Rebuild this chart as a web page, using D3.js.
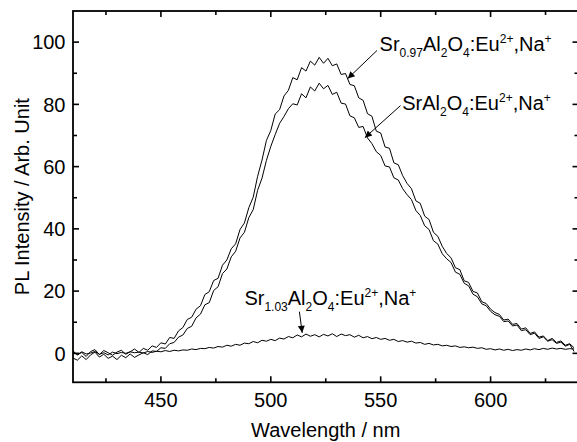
<!DOCTYPE html>
<html>
<head>
<meta charset="utf-8">
<script src="https://cdn.jsdelivr.net/npm/d3@7"></script>
<style>
  html, body { margin: 0; padding: 0; background: #fff; }
  svg { display: block; font-family: "Liberation Sans", Arial, sans-serif; }
  .tick-label { font-size: 20px; fill: #000; }
  .axis-title { font-size: 20px; fill: #000; }
  .note { font-size: 20px; fill: #000; }
</style>
</head>
<body>
<svg id="chart" width="577" height="442"></svg>
<script>
// ── Data ──────────────────────────────────────────────────────────────────────
// sampling grid, nm
const wavelengths = d3.range(410, 640, 2);

// Sr0.97Al2O4:Eu2+,Na+
const srPoor = [
  0.8, -0.5, 0.3, -1.0, 0.6, 1.2, -0.4, 0.9, 0.2, -0.6,
  0.4, 1.0, -0.3, 0.5, 1.4, 0.3, 1.6, 1.0, 2.4, 1.9,
  3.4, 3.0, 5.1, 4.8, 7.2, 8.3, 10.9, 11.6, 14.2, 15.3,
  18.9, 19.8, 23.4, 24.1, 28.3, 30.0, 33.6, 35.2, 39.8, 41.9,
  46.8, 50.2, 56.9, 62.1, 68.4, 71.6, 76.9, 78.3, 82.7, 84.5,
  88.6, 87.9, 91.8, 90.7, 93.9, 92.6, 95.1, 93.2, 94.8, 92.4,
  93.0, 89.6, 89.9, 86.4, 86.0, 82.1, 81.3, 77.0, 76.2, 71.4,
  70.8, 66.3, 65.9, 61.2, 60.6, 57.1, 54.6, 52.9, 49.0, 48.2,
  44.1, 43.0, 38.9, 37.6, 34.4, 32.1, 30.7, 27.5, 26.9, 23.3,
  22.8, 19.9, 19.4, 16.6, 16.0, 14.2, 13.1, 12.5, 10.7, 11.0,
  9.3, 9.6, 7.8, 8.2, 6.4, 6.9, 5.2, 5.6, 4.1, 4.8,
  3.5, 4.0, 2.6, 3.1, 1.8
];

// SrAl2O4:Eu2+,Na+
const srStoich = [
  -1.5, -2.2, -0.8, -2.0, -0.5, 0.4, -1.2, -0.3, -1.6, -0.9,
  -2.0, -0.6, -1.4, -0.2, -1.3, -0.5, 0.2, -0.4, 0.8, 0.6,
  1.8, 1.6, 3.1, 3.5, 5.2, 5.9, 8.0, 8.7, 11.4, 12.6,
  15.6, 16.3, 20.2, 21.4, 25.6, 27.1, 31.0, 32.8, 37.1, 38.9,
  43.6, 46.2, 52.4, 56.3, 62.0, 66.5, 70.3, 73.9, 76.1, 78.6,
  80.2, 79.8, 83.4, 82.1, 85.6, 84.3, 86.8, 85.0, 86.1, 83.2,
  83.9, 80.4, 80.1, 76.3, 75.7, 72.6, 72.9, 69.2, 67.4, 64.8,
  63.6, 60.2, 59.9, 56.4, 55.7, 52.9, 51.0, 49.4, 45.9, 44.3,
  41.0, 39.8, 36.2, 35.1, 32.0, 30.4, 29.2, 26.1, 25.4, 22.5,
  21.7, 19.0, 18.2, 15.9, 15.3, 13.5, 12.4, 11.9, 10.2, 10.4,
  8.8, 9.1, 7.3, 7.6, 6.0, 6.5, 4.8, 5.3, 3.9, 4.4,
  3.2, 3.6, 2.3, 2.9, 0.6
];

// Sr1.03Al2O4:Eu2+,Na+
const srRich = [
  0.3, -0.4, 0.5, -0.2, 0.1, 0.6, -0.3, 0.2, -0.5, 0.4,
  -0.1, 0.3, 0.0, 0.5, 0.2, 0.4, 0.1, 0.6, 0.3, 0.7,
  0.5, 0.9, 0.6, 1.0, 0.8, 1.1, 1.0, 1.4, 1.2, 1.6,
  1.5, 1.9, 1.7, 2.2, 2.0, 2.6, 2.3, 2.9, 2.6, 3.3,
  3.1, 3.8, 3.4, 4.2, 3.9, 4.5, 4.1, 4.9, 4.6, 5.4,
  5.0, 5.9, 5.3, 6.2, 5.5, 6.0, 5.3, 6.1, 5.6, 6.3,
  5.4, 6.2, 5.7, 6.0, 5.2, 5.8, 5.0, 5.4, 4.7, 5.1,
  4.5, 4.8, 4.2, 4.5, 3.8, 4.1, 3.6, 3.9, 3.3, 3.5,
  2.9, 3.2, 2.7, 2.9, 2.4, 2.6, 2.2, 2.4, 1.9, 2.1,
  1.8, 2.0, 1.6, 1.8, 1.3, 1.5, 1.1, 1.4, 1.0, 1.3,
  0.9, 1.2, 1.0, 1.4, 1.1, 1.5, 1.2, 1.6, 1.3, 1.7,
  1.4, 1.6, 1.3, 1.5, 1.4
];

const xMajor = [450, 500, 550, 600];
const xMinor = [425, 475, 525, 575, 625];
const yMajor = [0, 20, 40, 60, 80, 100];
const yMinor = [10, 30, 50, 70, 90];

// label parts: [text, "n" normal | "sub" | "sup"]
const labelPoor   = [["Sr","n"],["0.97","sub"],["Al","n"],["2","sub"],["O","n"],["4","sub"],[":Eu","n"],["2+","sup"],[",Na","n"],["+","sup"]];
const labelStoich = [["SrAl","n"],["2","sub"],["O","n"],["4","sub"],[":Eu","n"],["2+","sup"],[",Na","n"],["+","sup"]];
const labelRich   = [["Sr","n"],["1.03","sub"],["Al","n"],["2","sub"],["O","n"],["4","sub"],[":Eu","n"],["2+","sup"],[",Na","n"],["+","sup"]];

// annotations in data units: text anchor, arrow tail, arrow tip
const notes = [
  { parts: labelPoor,   at: [549.5, 97.3], from: [548.3, 97.3], to: [535.0, 88.3] },
  { parts: labelStoich, at: [559.8, 78.2], from: [559.0, 79.6], to: [542.8, 69.3] },
  { parts: labelRich,   at: [488.0, 15.5], from: [513.0, 13.4], to: [514.3, 6.6] }
];

// ── Chart ─────────────────────────────────────────────────────────────────────
const svg = d3.select("#chart");
const x = d3.scaleLinear().domain([410, 640]).range([73, 578.5]);
const y = d3.scaleLinear().domain([-9.3, 110]).range([382.3, 11]);
const [x0, x1] = x.range(), [y0, y1] = y.range();

const defs = svg.append("defs");
const clip = defs.append("clipPath").attr("id", "plot-clip");
clip.append("rect").attr("x", x0).attr("y", y1).attr("width", x1 - x0).attr("height", y0 - y1);

defs.append("marker")
  .attr("id", "arrow").attr("viewBox", "0 0 10 10")
  .attr("refX", 10).attr("refY", 5)
  .attr("markerUnits", "userSpaceOnUse")
  .attr("markerWidth", 9).attr("markerHeight", 7)
  .attr("orient", "auto")
  .append("path").attr("d", "M0,0L10,5L0,10z").attr("fill", "#000");

const line = d3.line()
  .x((d, i) => x(wavelengths[i]))
  .y(d => y(d));

const plot = svg.append("g").attr("clip-path", "url(#plot-clip)");
[srPoor, srStoich, srRich].forEach(values => {
  plot.append("path").datum(values)
    .attr("fill", "none")
    .attr("stroke", "#000")
    .attr("stroke-width", 1)
    .attr("stroke-linejoin", "round")
    .attr("d", line);
});

// frame + inward ticks on all four sides
const ticks = svg.append("g").attr("stroke", "#000").attr("stroke-width", 1.6);
const tickSet = (vals, len) => vals.forEach(v => {
  ticks.append("line").attr("x1", x(v)).attr("x2", x(v)).attr("y1", y0).attr("y2", y0 - len);
  ticks.append("line").attr("x1", x(v)).attr("x2", x(v)).attr("y1", y1).attr("y2", y1 + len);
});
const tickSetY = (vals, len) => vals.forEach(v => {
  ticks.append("line").attr("x1", x0).attr("x2", x0 + len).attr("y1", y(v)).attr("y2", y(v));
  ticks.append("line").attr("x1", x1).attr("x2", x1 - len).attr("y1", y(v)).attr("y2", y(v));
});
tickSet(xMajor, 6);  tickSet(xMinor, 4);
tickSetY(yMajor, 6); tickSetY(yMinor, 4);

svg.append("rect")
  .attr("x", x0).attr("y", y1)
  .attr("width", x1 - x0).attr("height", y0 - y1)
  .attr("fill", "none").attr("stroke", "#000").attr("stroke-width", 1.8);

// tick labels
svg.append("g").selectAll("text").data(xMajor).join("text")
  .attr("class", "tick-label")
  .attr("x", d => x(d)).attr("y", 407)
  .attr("text-anchor", "middle")
  .text(d => d);

svg.append("g").selectAll("text").data(yMajor).join("text")
  .attr("class", "tick-label")
  .attr("x", 65.5).attr("y", d => y(d))
  .attr("dy", "0.36em")
  .attr("text-anchor", "end")
  .text(d => d);

// axis titles
svg.append("text").attr("class", "axis-title")
  .attr("x", (x0 + x1) / 2).attr("y", 437)
  .attr("text-anchor", "middle")
  .text("Wavelength / nm");

svg.append("text").attr("class", "axis-title")
  .attr("transform", `translate(28.5,${(y0 + y1) / 2}) rotate(-90)`)
  .attr("text-anchor", "middle")
  .text("PL Intensity / Arb. Unit");

// ── Annotations ───────────────────────────────────────────────────────────────
notes.forEach(n => {
  svg.append("line")
    .attr("x1", x(n.from[0])).attr("y1", y(n.from[1]))
    .attr("x2", x(n.to[0])).attr("y2", y(n.to[1]))
    .attr("stroke", "#000").attr("stroke-width", 1)
    .attr("marker-end", "url(#arrow)");

  const t = svg.append("text").attr("class", "note")
    .attr("x", x(n.at[0])).attr("y", y(n.at[1]));
  let shift = 0;
  n.parts.forEach(([s, kind]) => {
    const want = kind === "sub" ? 6 : kind === "sup" ? -8 : 0;
    t.append("tspan")
      .attr("dy", want - shift)
      .attr("font-size", kind === "n" ? 20 : 12)
      .text(s);
    shift = want;
  });
});
</script>
</body>
</html>
